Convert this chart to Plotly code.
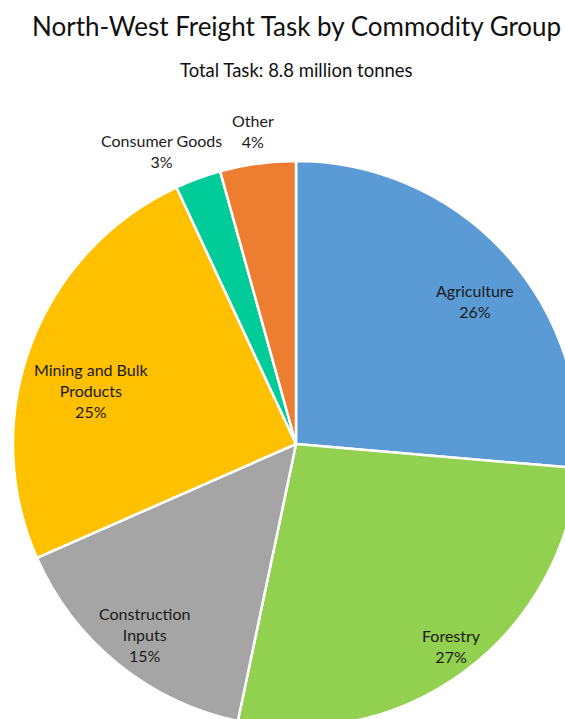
import math
import plotly.graph_objects as go

# North-West freight task, million tonnes by commodity group
categories = ["Agriculture", "Forestry", "Construction Inputs",
              "Mining and Bulk Products", "Consumer Goods", "Other"]
tonnes_m = [2.32, 2.37, 1.33, 2.17, 0.23, 0.38]
label_lines = ["Agriculture", "Forestry", "Construction<br>Inputs",
               "Mining and Bulk<br>Products", "Consumer Goods", "Other"]
colors = ["#5B9BD5", "#92D050", "#A5A5A5", "#FFC000", "#00CC99", "#ED7D31"]

# label placement: fraction of radius, angular nudge (degrees)
label_r = [0.81, 0.90, 0.86, 0.75, 1.14, 1.115]
label_da = [4.0, -1.0, -0.7, -6.0, -4.4, 0.0]

W, H = 592, 760
CX, CY, R = 296, 444, 283
FONT = "Lato"

fig = go.Figure(go.Pie(
    labels=categories,
    values=tonnes_m,
    sort=False,
    direction="clockwise",
    rotation=0,
    textinfo="none",
    hoverinfo="label+percent",
    marker=dict(colors=colors, line=dict(color="white", width=2.5)),
    domain=dict(x=[(CX - R) / W, (CX + R) / W],
                y=[1 - (CY + R) / H, 1 - (CY - R) / H]),
    showlegend=False,
))

total = sum(tonnes_m)
cum = 0.0
annotations = []
for name, v, fr, da in zip(label_lines, tonnes_m, label_r, label_da):
    mid = (cum + v / 2) / total * 360 + da
    cum += v
    px = CX + fr * R * math.sin(math.radians(mid))
    py = CY - fr * R * math.cos(math.radians(mid))
    pct = round(v / total * 100)
    annotations.append(dict(
        x=px / W, y=1 - py / H, xref="paper", yref="paper",
        text=f"{name}<br>{pct}%", showarrow=False,
        xanchor="center", yanchor="middle",
        font=dict(family=FONT, size=16, color="#1a1a1a"),
    ))

annotations.append(dict(
    x=0.5, y=1 - 26 / H, xref="paper", yref="paper", showarrow=False,
    text="North-West Freight Task by Commodity Group",
    xanchor="center", yanchor="middle",
    font=dict(family=FONT, size=26, color="#111111"),
))
annotations.append(dict(
    x=0.5, y=1 - 70 / H, xref="paper", yref="paper", showarrow=False,
    text="Total Task: 8.8 million tonnes",
    xanchor="center", yanchor="middle",
    font=dict(family=FONT, size=18.5, color="#111111"),
))

fig.update_layout(
    width=W, height=H,
    margin=dict(l=0, r=0, t=0, b=0),
    paper_bgcolor="white",
    plot_bgcolor="white",
    annotations=annotations,
)

fig.write_html(
    "out.html",
    post_script="document.documentElement.style.overflow='hidden';"
                "document.body.style.overflow='hidden';"
                "document.body.style.margin='0';",
)
